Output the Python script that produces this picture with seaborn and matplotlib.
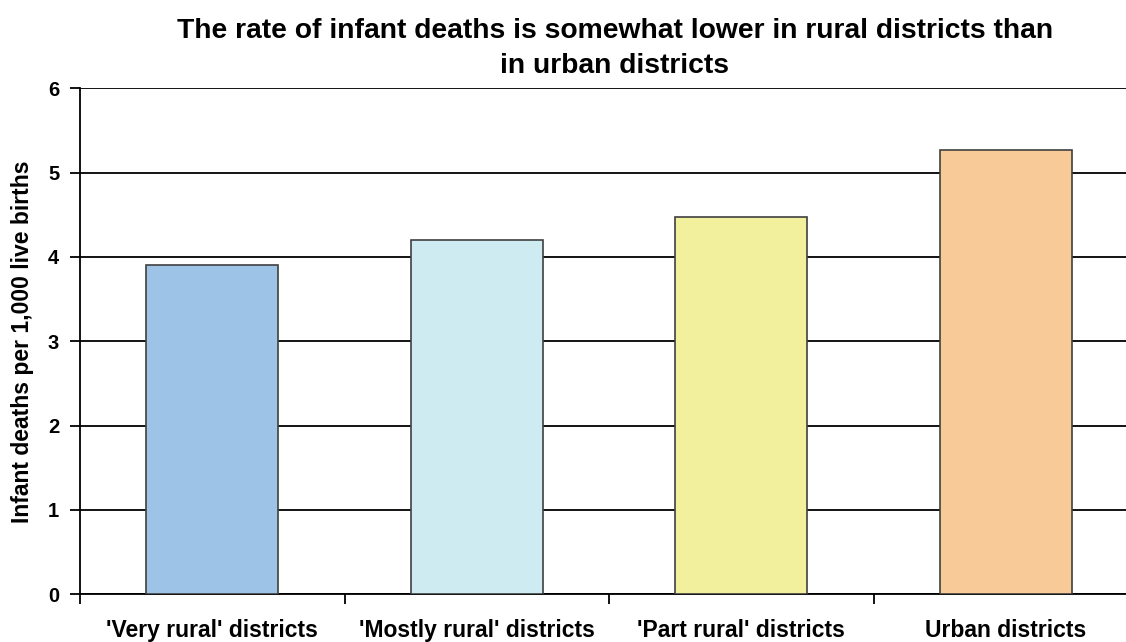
import matplotlib
matplotlib.use("Agg")
import matplotlib.pyplot as plt
import seaborn as sns
import pandas as pd

categories = ["'Very rural' districts", "'Mostly rural' districts", "'Part rural' districts", "Urban districts"]
values = [3.9, 4.2, 4.47, 5.27]
colors = ["#9DC3E6", "#CDEBF0", "#F2F09D", "#F8CA98"]
yticks = [0, 1, 2, 3, 4, 5, 6]
title = "The rate of infant deaths is somewhat lower in rural districts than\nin urban districts"
ylabel = "Infant deaths per 1,000 live births"

sns.set_style("white")
plt.rcParams['font.family'] = ['Liberation Sans', 'DejaVu Sans']
plt.rcParams['text.color'] = 'black'
plt.rcParams['axes.labelcolor'] = 'black'
plt.rcParams['xtick.color'] = 'black'
plt.rcParams['ytick.color'] = 'black'

df = pd.DataFrame({"category": categories, "value": values})

fig = plt.figure(figsize=(11.26, 6.42), dpi=100)
ax = fig.add_axes([80/1126, 1-594.3/642, 1058/1126, (594.3-88.3)/642])

sns.barplot(data=df, x="category", y="value", hue="category", palette=colors, saturation=1,
            width=0.5, edgecolor="#404040", linewidth=1.2, legend=False, ax=ax, zorder=3)

ax.set_ylim(0, 6)
ax.set_xlim(-0.5, 3.5)
ax.set_yticks(yticks)
ax.yaxis.grid(True, color="black", linewidth=1.3, zorder=0)
ax.set_axisbelow(True)
for s in ["top", "right"]:
    ax.spines[s].set_visible(False)
for s in ["left", "bottom"]:
    ax.spines[s].set_color("black")
    ax.spines[s].set_linewidth(1.3)

ax.tick_params(axis="y", left=True, direction="out", length=7, width=1.3, color="black",
               labelsize=14.5, pad=8, labelcolor="black")
ax.tick_params(axis="x", which="major", bottom=True, length=0, labelsize=16.5, pad=18, labelcolor="black")
ax.set_xticks([-0.5, 0.5, 1.5, 2.5, 3.5], minor=True)
ax.tick_params(axis="x", which="minor", bottom=True, direction="out", length=7, width=1.3, color="black")
for lab in ax.get_xticklabels() + ax.get_yticklabels():
    lab.set_fontweight("bold")

ax.set_xlabel("")
ax.set_ylabel(ylabel, fontsize=16.5, fontweight="bold", labelpad=10, color="black")

fig.text(615/1126, 1-18/642, title, ha="center", va="top", fontsize=20.3, fontweight="bold",
         linespacing=1.45, color="black")

fig.savefig("out.png", dpi=100)
